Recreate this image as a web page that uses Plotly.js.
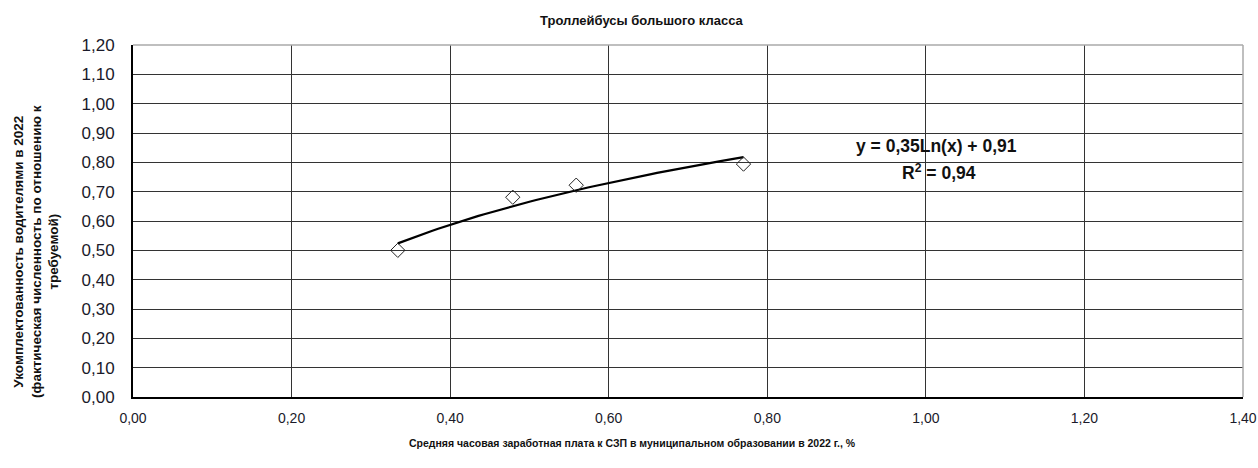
<!DOCTYPE html>
<html>
<head>
<meta charset="utf-8">
<script src="https://cdn.plot.ly/plotly-3.0.1.min.js"></script>
<style>html,body{margin:0;padding:0;background:#fff;}#chart{width:1258px;height:468px;}</style>
</head>
<body>
<div id="chart"></div>
<script>
// Data
const xValues = [0.334, 0.479, 0.559, 0.770];
const yValues = [0.50, 0.681, 0.722, 0.794];
const xTickVals = [0, 0.2, 0.4, 0.6, 0.8, 1.0, 1.2, 1.4];
const xTickText = ["0,00", "0,20", "0,40", "0,60", "0,80", "1,00", "1,20", "1,40"];
const yTickVals = [0, 0.1, 0.2, 0.3, 0.4, 0.5, 0.6, 0.7, 0.8, 0.9, 1.0, 1.1, 1.2];
const yTickText = ["0,00", "0,10", "0,20", "0,30", "0,40", "0,50", "0,60", "0,70", "0,80", "0,90", "1,00", "1,10", "1,20"];
const chartTitle = "Троллейбусы большого класса";
const xTitle = "Средняя часовая заработная плата к СЗП в муниципальном образовании в 2022 г., %";
const yTitle = "Укомплектованность водителями в 2022<br>(фактическая численность по отношению к<br>требуемой)";
const eqText = "y = 0,35Ln(x) + 0,91";
const r2Text = "R<sup>2</sup> = 0,94";

// Logarithmic least-squares fit (as a spreadsheet trendline does)
const lx = xValues.map(Math.log);
const n = lx.length;
const mx = lx.reduce((a, b) => a + b, 0) / n;
const my = yValues.reduce((a, b) => a + b, 0) / n;
let sxx = 0, sxy = 0;
for (let i = 0; i < n; i++) { sxx += (lx[i] - mx) ** 2; sxy += (lx[i] - mx) * (yValues[i] - my); }
const slope = sxy / sxx;
const intercept = my - slope * mx;
const xMin = Math.min(...xValues), xMax = Math.max(...xValues);
const trendX = [], trendY = [];
for (let k = 0; k <= 60; k++) {
  const xv = xMin + (xMax - xMin) * k / 60;
  trendX.push(xv);
  trendY.push(slope * Math.log(xv) + intercept);
}

const font = "Liberation Sans, Arial, sans-serif";
const data = [
  {x: trendX, y: trendY, mode: "lines", line: {color: "#000", width: 2.2}, hoverinfo: "skip"},
  {x: xValues, y: yValues, mode: "markers",
   marker: {symbol: "diamond-open", size: 11, color: "#222", line: {width: 1, color: "#222"}}}
];
function ann(text, x, y, size, extra) {
  return Object.assign({text: text, xref: "paper", yref: "paper", x: x, y: y,
    xanchor: "center", yanchor: "middle", showarrow: false,
    font: {size: size, family: font, color: "#111"}}, extra || {});
}
const layout = {
  width: 1258, height: 468,
  margin: {l: 133, r: 15, t: 45, b: 71},
  paper_bgcolor: "#fff", plot_bgcolor: "#fff",
  showlegend: false,
  font: {family: font, color: "#111"},
  xaxis: {
    range: [0, 1.4], tickvals: xTickVals, ticktext: xTickText,
    showgrid: true, gridcolor: "#333", gridwidth: 1,
    showline: true, linecolor: "#000", linewidth: 2, mirror: false,
    zeroline: false, ticks: "", ticklen: 0, ticklabelstandoff: 7,
    tickfont: {size: 14, family: font, color: "#1a1a2a"}
  },
  yaxis: {
    range: [0, 1.2], tickvals: yTickVals, ticktext: yTickText,
    showgrid: true, gridcolor: "#333", gridwidth: 1,
    showline: true, linecolor: "#000", linewidth: 2,
    zeroline: false, ticks: "", ticklen: 0, ticklabelstandoff: 13,
    tickfont: {size: 17, family: font, color: "#1a1a2a"}
  },
  shapes: [
    {type: "line", xref: "paper", yref: "paper", x0: 0, x1: 1, y0: 1, y1: 1, line: {color: "#aaa", width: 1.5}},
    {type: "line", xref: "paper", yref: "paper", x0: 1, x1: 1, y0: 0, y1: 1, line: {color: "#aaa", width: 1.5}}
  ],
  annotations: [
    ann("<b>" + chartTitle + "</b>", 0.459, 1.071, 13),
    ann("<b>" + xTitle + "</b>", 0.450, -0.131, 10.5),
    ann("<b>" + yTitle + "</b>", -0.0874, 0.415, 13.5, {textangle: -90}),
    ann("<b>" + eqText + "</b>", 0.724, 0.713, 17.5),
    ann("<b>" + r2Text + "</b>", 0.726, 0.639, 17.5)
  ]
};
Plotly.newPlot("chart", data, layout, {displayModeBar: false, staticPlot: true});
</script>
</body>
</html>
